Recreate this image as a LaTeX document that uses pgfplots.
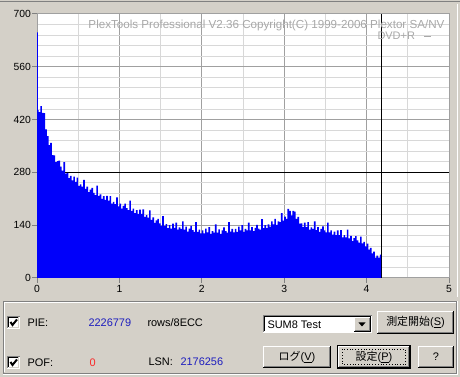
\documentclass[border=0pt]{standalone}
\usepackage{pgfplots}
\pgfplotsset{compat=1.18}
\usepackage{fontspec}
\setmainfont{Liberation Sans}
\newfontfamily\jp{Noto Sans CJK JP}
\definecolor{winbg}{HTML}{D4D0C8}
\definecolor{majg}{HTML}{A0A0A0}
\definecolor{ming}{HTML}{D8D8D8}
\definecolor{wm}{HTML}{A8A8A8}
\definecolor{dgray}{HTML}{808080}
\definecolor{numblue}{RGB}{30,30,190}
\definecolor{barblue}{RGB}{0,0,250}
\definecolor{pofred}{RGB}{250,40,40}

\newcommand{\btn}[5]{%
 \fill[winbg] (#1,#2) rectangle (#3,#4);
 \draw[white] (#1+0.5,#4-1) -- (#1+0.5,#2+0.5) -- (#3-1,#2+0.5);
 \draw[black] (#1,#4-0.5) -- (#3-0.5,#4-0.5) -- (#3-0.5,#2);
 \draw[dgray] (#1+1,#4-1.5) -- (#3-1.5,#4-1.5) -- (#3-1.5,#2+1);
 \node[font=\fontsize{11}{13}\selectfont] at ({(#1+#3)/2},{(#2+#4)/2}) {#5};
}
\newcommand{\chk}[2]{%
 \fill[white] (#1,#2) rectangle ++(13,13);
 \draw[dgray] (#1+0.5,#2+12.5) -- (#1+0.5,#2+0.5) -- (#1+12.5,#2+0.5);
 \draw[black] (#1+1.5,#2+11.5) -- (#1+1.5,#2+1.5) -- (#1+11.5,#2+1.5);
 \draw[winbg] (#1+1.5,#2+11.5) -- (#1+11.5,#2+11.5) -- (#1+11.5,#2+1.5);
 \draw[black, line width=2bp] (#1+3.5,#2+6) -- (#1+5.5,#2+9) -- (#1+10,#2+3.5);
}

\begin{document}
\begin{tikzpicture}
\path[use as bounding box, fill=winbg] (0,0) rectangle (460bp,377bp);
\begin{scope}[x=1bp,y=-1bp,yshift=377bp,line width=1bp]
 \draw[dgray] (0,1.5) -- (460,1.5);
 \draw[white] (457.5,4) -- (457.5,297);
 \fill[white] (37,13) rectangle (450,278);
\end{scope}

\begin{axis}[
 at={(37bp,99bp)}, anchor=south west,
 width=412bp, height=264bp, scale only axis,
 xmin=0, xmax=5, ymin=0, ymax=700,
 xtick={0,1,2,3,4,5}, ytick={0,140,280,420,560,700},
 minor xtick={0.5,1.5,2.5,3.5,4.5},
 minor ytick={28,56,84,112,168,196,224,252,308,336,364,392,448,476,504,532,588,616,644,672},
 grid=both,
 major grid style={majg, line width=1bp},
 minor grid style={ming, line width=1bp},
 axis line style={majg, line width=1bp},
 tick align=outside, major tick length=5bp, minor tick length=0pt,
 tick pos=left,
 tick style={dgray, line width=1bp},
 ticklabel style={font=\fontsize{10.4}{12}\selectfont},
 /pgf/number format/assume math mode=true,
 yticklabel style={inner sep=1bp},
 xticklabel style={inner sep=2bp},
]
\addplot[black, line width=1bp] coordinates {(0,280)(5,280)};
\addplot[black, line width=1bp] coordinates {(4.175,0)(4.175,700)};
\addplot[const plot, fill=barblue, draw=none] coordinates {
(0,651)(0.01,445)(0.02,440)(0.04,456)(0.06,438)(0.08,437)(0.10,394)(0.12,376)(0.14,352)(0.16,358)(0.18,326)
(0.20,325)(0.22,307)(0.24,310)(0.26,311)(0.28,295)(0.30,285)(0.32,307)(0.34,277)(0.36,279)(0.38,265)
(0.40,271)(0.42,259)(0.44,269)(0.46,255)(0.48,266)(0.50,244)(0.52,248)(0.54,242)(0.56,260)(0.58,236)
(0.60,242)(0.62,228)(0.64,234)(0.66,239)(0.68,226)(0.70,220)(0.72,245)(0.74,218)(0.76,222)(0.78,210)
(0.80,217)(0.82,207)(0.84,218)(0.86,205)(0.88,217)(0.90,197)(0.92,202)(0.94,196)(0.96,214)(0.98,190)
(1.00,197)(1.02,184)(1.04,191)(1.06,197)(1.08,185)(1.10,180)(1.12,205)(1.14,178)(1.16,184)(1.18,172)
(1.20,180)(1.22,170)(1.24,181)(1.26,170)(1.28,182)(1.30,162)(1.32,167)(1.34,160)(1.36,179)(1.38,154)
(1.40,161)(1.42,146)(1.44,153)(1.46,157)(1.48,145)(1.50,138)(1.52,164)(1.54,138)(1.56,143)(1.58,132)
(1.60,140)(1.62,131)(1.64,144)(1.66,133)(1.68,147)(1.70,128)(1.72,134)(1.74,130)(1.76,150)(1.78,128)
(1.80,136)(1.82,123)(1.84,131)(1.86,138)(1.88,127)(1.90,122)(1.92,148)(1.94,122)(1.96,128)(1.98,118)
(2.00,126)(2.02,118)(2.04,131)(2.06,121)(2.08,135)(2.10,117)(2.12,124)(2.14,120)(2.16,142)(2.18,120)
(2.20,129)(2.22,117)(2.24,126)(2.26,134)(2.28,124)(2.30,120)(2.32,148)(2.34,123)(2.36,130)(2.38,121)
(2.40,130)(2.42,122)(2.44,136)(2.46,126)(2.48,140)(2.50,122)(2.52,130)(2.54,126)(2.56,147)(2.58,126)
(2.60,135)(2.62,124)(2.64,133)(2.66,141)(2.68,131)(2.70,128)(2.72,156)(2.74,132)(2.76,140)(2.78,132)
(2.80,142)(2.82,136)(2.84,150)(2.86,142)(2.88,157)(2.90,141)(2.92,150)(2.94,148)(2.96,172)(2.98,152)
(3.00,163)(3.02,157)(3.04,183)(3.06,178)(3.08,166)(3.10,178)(3.12,176)(3.14,157)(3.16,162)(3.18,144)
(3.20,145)(3.22,135)(3.24,147)(3.26,135)(3.28,148)(3.30,128)(3.32,134)(3.34,130)(3.36,150)(3.38,127)
(3.40,135)(3.42,122)(3.44,130)(3.46,137)(3.48,126)(3.50,121)(3.52,147)(3.54,121)(3.56,126)(3.58,115)
(3.60,123)(3.62,114)(3.64,126)(3.66,114)(3.68,127)(3.70,108)(3.72,114)(3.74,108)(3.76,128)(3.78,105)
(3.80,112)(3.82,98)(3.84,106)(3.86,111)(3.88,100)(3.90,94)(3.92,110)(3.94,92)(3.96,96)(3.98,84)
(4.00,91)(4.02,75)(4.04,80)(4.06,65)(4.08,70)(4.10,54)(4.12,59)(4.14,54)(4.16,62)(4.175,55)
} \closedcycle;
\end{axis}

\begin{scope}[x=1bp,y=-1bp,yshift=377bp,line width=1bp]
 % watermark
 \node[anchor=west, inner sep=0, text=wm] at (88,25) {\resizebox{356bp}{!}{\fontsize{11.5}{13}\selectfont PlexTools Professional V2.36 Copyright(C) 1999-2006 Plextor SA/NV}};
 \node[anchor=west, inner sep=0, text=wm, font=\fontsize{11}{13}\selectfont] at (377,36) {DVD+R};
 \draw[wm] (424,36.5) -- (431,36.5);
 % group box
 \draw[dgray] (3.5,373.5) -- (3.5,301.5) -- (456.5,301.5) -- (456.5,373.5) -- cycle;
 \draw[white] (4.5,372.5) -- (4.5,302.5) -- (455.5,302.5);
 \draw[white] (3,374.5) -- (457.5,374.5) -- (457.5,301);
 % row 1
 \chk{7}{316}
 \node[anchor=west, inner sep=0, font=\fontsize{11}{13}\selectfont] at (27,322.5) {PIE:};
 \node[anchor=west, inner sep=0, text=numblue, font=\fontsize{11}{13}\selectfont] at (88,322.5) {2226779};
 \node[anchor=west, inner sep=0, font=\fontsize{11}{13}\selectfont] at (147,322.5) {rows/8ECC};
 % combobox
 \fill[white] (263,315) rectangle (372,333);
 \draw[dgray] (263.5,332.5) -- (263.5,315.5) -- (371.5,315.5);
 \draw[black] (264.5,331.5) -- (264.5,316.5) -- (370.5,316.5);
 \node[anchor=west, inner sep=0, font=\fontsize{11}{13}\selectfont] at (267,324.5) {SUM8 Test};
 \btn{354}{317}{371}{332}{}
 \fill[black] (358.5,322.5) -- (365.5,322.5) -- (362,326.5) -- cycle;
 \btn{377}{311}{454}{334}{{\jp 測定開始}(\underline{S})}
 % row 2
 \chk{7}{356}
 \node[anchor=west, inner sep=0, font=\fontsize{11}{13}\selectfont] at (27,362.5) {POF:};
 \node[anchor=west, inner sep=0, text=pofred, font=\fontsize{11}{13}\selectfont] at (89,362.5) {0};
 \node[anchor=west, inner sep=0, font=\fontsize{11}{13}\selectfont] at (148,361.5) {LSN:};
 \node[anchor=west, inner sep=0, text=numblue, font=\fontsize{11}{13}\selectfont] at (180,361.5) {2176256};
 \btn{263}{346}{331}{368}{{\jp ログ}(\underline{V})}
 \btn{338}{346}{410}{368}{{\jp 設定}(\underline{P})}
 \draw[black] (337.5,345.5) rectangle (410.5,368.5);
 \draw[black, line width=0.8bp, dotted] (342.5,349.5) rectangle (405.5,364.5);
 \btn{418}{346}{454}{368}{?}
\end{scope}
\end{tikzpicture}
\end{document}
